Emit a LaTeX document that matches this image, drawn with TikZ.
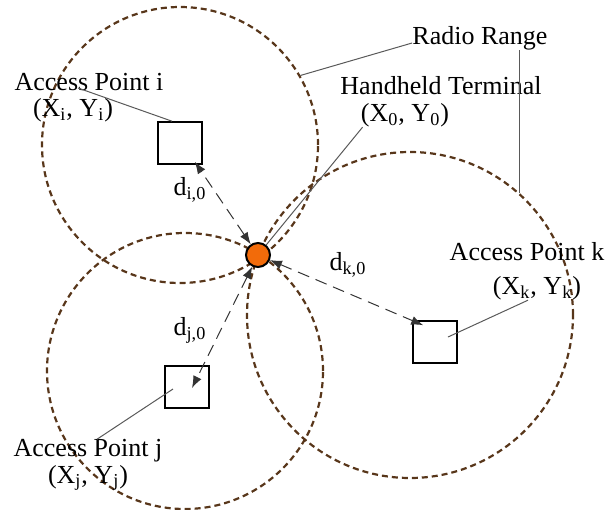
\documentclass[tikz,border=0pt]{standalone}
\usepackage{fontspec}
\setmainfont{Liberation Serif}
\usetikzlibrary{arrows.meta,calc}
\definecolor{rangebrown}{RGB}{88,54,26}
\definecolor{termorange}{RGB}{242,107,10}
\begin{document}
\begin{tikzpicture} [x=0.5pt, y=-0.5pt,
		radiorange/.style={circle, draw=rangebrown, line width=1.1pt, dash pattern=on 3pt off 2pt, minimum size=138pt, inner sep=0pt},
		apbox/.style={draw, line width=0.8pt, minimum width=22pt, minimum height=21pt, inner sep=0pt},
		lbl/.style={inner sep=0pt, font=\fontsize{13}{14}\selectfont},
		leader/.style={draw=black!65, line width=0.5pt},
		dist/.style={draw=black!80, line width=0.5pt, dash pattern=on 6pt off 3.5pt, {Latex[length=6pt,width=4.5pt]}-{Latex[length=6pt,width=4.5pt]}}]
		\useasboundingbox (0,0) rectangle (607,510);
		
		% radio ranges
		\node[radiorange] (ci) at (180,145) {};
		\node[radiorange] (cj) at (185,371) {};
		\node[radiorange, minimum size=163pt] (ck) at (410,315) {};
		
		% access points and terminal
		\node[apbox] (bi) at (180,143) {};
		\node[apbox] (bj) at (187,387) {};
		\node[apbox] (bk) at (435,342) {};
		\node[circle, draw, fill=termorange, line width=1pt, minimum size=12pt, inner sep=0pt] (ht) at (258,255) {};
		
		% labels
		\node[lbl] (rr) at (480,38) {Radio Range};
		\node[lbl] (hth) at (441,86) {Handheld Terminal};
		\node[lbl] (ht0) at (405,115) {(X\textsubscript{0}, Y\textsubscript{0})};
		\node[lbl] (api) at (89,82) {Access Point i};
		\node[lbl] (api0) at (73,110) {(X\textsubscript{i}, Y\textsubscript{i})};
		\node[lbl] (apk) at (527,252) {Access Point k};
		\node[lbl] (apk0) at (537,288) {(X\textsubscript{k}, Y\textsubscript{k})};
		\node[lbl] (apj) at (88,451) {Access Point j};
		\node[lbl] (apj0) at (88,478) {(X\textsubscript{j}, Y\textsubscript{j})};
		\node[lbl] (di) at (190,190) {d\textsubscript{i,0}};
		\node[lbl] (dj) at (190,330) {d\textsubscript{j,0}};
		\node[lbl] (dk) at (348,265) {d\textsubscript{k,0}};
		
		% leaders
		\draw[leader] ([yshift=-2.5pt]rr.west) -- (ci.30);
		\draw[leader] (ck.48) -- (ck.48 |- rr.south);
		\draw[leader] ([xshift=1pt]ht0.south west) -- (ht);
		\draw[leader] ($(api)+(-11,6)$) -- ($(bi.north)+(-8,0)$);
		\draw[leader] ($(apk0.south)+(-9,0)$) -- ($(bk)+(13,-5)$);
		\draw[leader] ($(apj.north)+(9,0)$) -- ($(bj)+(-14,2)$);
		
		% distances
		\draw[dist] (ht) -- ($(bi.south east)+(-8,-3)$);
		\draw[dist] (ht) -- ($(bj)+(5,1)$);
		\draw[dist] (ht) -- ($(bk.north west)+(11,5)$);
	\end{tikzpicture}
\end{document}
